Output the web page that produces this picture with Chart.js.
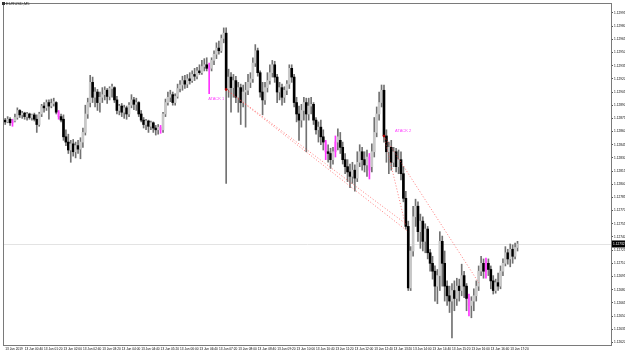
<!DOCTYPE html>
<html>
<head>
<meta charset="utf-8">
<script src="https://cdn.jsdelivr.net/npm/chart.js@4.4.1/dist/chart.umd.min.js"></script>
<style>
  html, body { margin: 0; padding: 0; background: #fff; }
  #wrap { width: 625px; height: 353px; }
</style>
</head>
<body>
<div id="wrap"><canvas id="grafico" width="625" height="353"></canvas></div>
<script>
const symbolTitle = "EURUSD,M5";

const timeLabels = [
  "13 Jun 2019", "13 Jun 00:40", "13 Jun 01:20", "13 Jun 02:00", "13 Jun 02:40", "13 Jun 03:20",
  "13 Jun 04:00", "13 Jun 04:40", "13 Jun 05:20", "13 Jun 06:00", "13 Jun 06:40", "13 Jun 07:20",
  "13 Jun 08:00", "13 Jun 08:40", "13 Jun 09:20", "13 Jun 10:00", "13 Jun 10:40", "13 Jun 11:20",
  "13 Jun 12:00", "13 Jun 12:40", "13 Jun 13:20", "13 Jun 14:00", "13 Jun 14:40", "13 Jun 15:20",
  "13 Jun 16:00", "13 Jun 16:40", "13 Jun 17:20"
];

const priceTicks = [
  1.12620, 1.12635, 1.12650, 1.12665, 1.12680, 1.12695, 1.12710, 1.12725, 1.12740,
  1.12755, 1.12770, 1.12785, 1.12800, 1.12815, 1.12830, 1.12845, 1.12860, 1.12875,
  1.12890, 1.12905, 1.12920, 1.12935, 1.12950, 1.12965, 1.12980, 1.12995
];

// velas M5 (open / high / low / close)
const opens = [
  1.12873,1.12871,1.12874,1.12870,1.12872,1.12876,1.12884,1.12879,1.12881,1.12877,
  1.12880,1.12876,1.12879,1.12874,1.12868,1.12880,1.12889,1.12887,1.12893,1.12889,
  1.12892,1.12893,1.12882,1.12877,1.12874,1.12854,1.12848,1.12839,1.12846,1.12837,
  1.12844,1.12840,1.12848,1.12859,1.12880,1.12893,1.12916,1.12899,1.12905,1.12893,
  1.12899,1.12902,1.12907,1.12900,1.12909,1.12910,1.12896,1.12884,1.12889,1.12882,
  1.12887,1.12880,1.12890,1.12896,1.12891,1.12893,1.12880,1.12873,1.12868,1.12872,
  1.12866,1.12870,1.12864,1.12862,1.12865,1.12862,1.12880,1.12893,1.12899,1.12902,
  1.12893,1.12900,1.12909,1.12913,1.12918,1.12914,1.12920,1.12918,1.12925,1.12923,
  1.12929,1.12927,1.12934,1.12936,1.12933,1.12932,1.12941,1.12948,1.12955,1.12952,
  1.12966,1.12972,1.12908,1.12922,1.12910,1.12918,1.12899,1.12910,1.12893,1.12905,
  1.12907,1.12916,1.12920,1.12938,1.12952,1.12927,1.12905,1.12896,1.12910,1.12918,
  1.12927,1.12936,1.12922,1.12905,1.12910,1.12899,1.12907,1.12914,1.12932,1.12922,
  1.12893,1.12880,1.12873,1.12884,1.12893,1.12880,1.12889,1.12891,1.12873,1.12862,
  1.12865,1.12854,1.12848,1.12837,1.12835,1.12828,1.12837,1.12848,1.12850,1.12842,
  1.12828,1.12820,1.12814,1.12809,1.12816,1.12807,1.12825,1.12837,1.12828,1.12822,
  1.12831,1.12820,1.12837,1.12859,1.12880,1.12893,1.12907,1.12855,1.12837,1.12842,
  1.12825,1.12837,1.12820,1.12828,1.12812,1.12784,1.12752,1.12682,1.12724,1.12763,
  1.12775,1.12746,1.12758,1.12735,1.12749,1.12722,1.12710,1.12701,1.12684,1.12696,
  1.12735,1.12710,1.12684,1.12673,1.12667,1.12679,1.12670,1.12684,1.12679,1.12696,
  1.12684,1.12670,1.12662,1.12667,1.12673,1.12684,1.12701,1.12710,1.12701,1.12710,
  1.12703,1.12690,1.12679,1.12688,1.12684,1.12701,1.12710,1.12722,1.12715,1.12726,
  1.12718,1.12728
];
const highs = [
  1.12875,1.12877,1.12876,1.12874,1.12880,1.12887,1.12885,1.12883,1.12882,1.12882,
  1.12881,1.12880,1.12881,1.12879,1.12882,1.12891,1.12893,1.12896,1.12896,1.12897,
  1.12898,1.12894,1.12884,1.12880,1.12879,1.12862,1.12857,1.12850,1.12851,1.12848,
  1.12850,1.12853,1.12864,1.12890,1.12898,1.12924,1.12922,1.12910,1.12908,1.12905,
  1.12910,1.12911,1.12909,1.12911,1.12914,1.12911,1.12900,1.12891,1.12892,1.12890,
  1.12889,1.12893,1.12902,1.12899,1.12898,1.12894,1.12884,1.12876,1.12874,1.12873,
  1.12872,1.12871,1.12867,1.12868,1.12867,1.12882,1.12897,1.12905,1.12907,1.12905,
  1.12903,1.12914,1.12918,1.12923,1.12924,1.12925,1.12927,1.12929,1.12932,1.12933,
  1.12936,1.12941,1.12943,1.12944,1.12938,1.12944,1.12952,1.12961,1.12963,1.12970,
  1.12978,1.12978,1.12931,1.12927,1.12925,1.12923,1.12916,1.12914,1.12913,1.12916,
  1.12925,1.12927,1.12944,1.12959,1.12955,1.12929,1.12916,1.12916,1.12927,1.12936,
  1.12941,1.12940,1.12925,1.12916,1.12914,1.12911,1.12918,1.12936,1.12936,1.12925,
  1.12899,1.12889,1.12891,1.12899,1.12898,1.12898,1.12899,1.12893,1.12876,1.12871,
  1.12873,1.12862,1.12850,1.12845,1.12841,1.12842,1.12855,1.12863,1.12859,1.12848,
  1.12835,1.12828,1.12823,1.12825,1.12822,1.12837,1.12845,1.12842,1.12837,1.12839,
  1.12835,1.12846,1.12876,1.12888,1.12905,1.12913,1.12913,1.12862,1.12848,1.12850,
  1.12842,1.12841,1.12839,1.12837,1.12820,1.12792,1.12758,1.12729,1.12775,1.12783,
  1.12780,1.12766,1.12763,1.12755,1.12752,1.12726,1.12718,1.12707,1.12703,1.12746,
  1.12741,1.12724,1.12690,1.12684,1.12687,1.12690,1.12693,1.12692,1.12709,1.12701,
  1.12687,1.12675,1.12672,1.12681,1.12690,1.12707,1.12718,1.12715,1.12716,1.12715,
  1.12707,1.12696,1.12692,1.12699,1.12707,1.12715,1.12729,1.12726,1.12732,1.12731,
  1.12733,1.12735
];
const lows = [
  1.12868,1.12870,1.12867,1.12866,1.12871,1.12874,1.12876,1.12875,1.12874,1.12873,
  1.12874,1.12873,1.12872,1.12859,1.12866,1.12877,1.12882,1.12884,1.12874,1.12887,
  1.12889,1.12880,1.12874,1.12871,1.12850,1.12844,1.12835,1.12825,1.12832,1.12830,
  1.12835,1.12829,1.12842,1.12856,1.12875,1.12888,1.12893,1.12888,1.12884,1.12882,
  1.12893,1.12896,1.12892,1.12896,1.12899,1.12893,1.12880,1.12879,1.12877,1.12875,
  1.12874,1.12877,1.12887,1.12885,1.12884,1.12877,1.12871,1.12864,1.12862,1.12859,
  1.12862,1.12859,1.12856,1.12857,1.12858,1.12859,1.12877,1.12890,1.12894,1.12890,
  1.12890,1.12898,1.12905,1.12907,1.12909,1.12910,1.12914,1.12916,1.12918,1.12920,
  1.12925,1.12925,1.12929,1.12929,1.12903,1.12929,1.12936,1.12943,1.12948,1.12950,
  1.12961,1.12801,1.12899,1.12882,1.12899,1.12893,1.12882,1.12868,1.12888,1.12865,
  1.12902,1.12910,1.12916,1.12934,1.12923,1.12899,1.12879,1.12891,1.12905,1.12914,
  1.12922,1.12916,1.12893,1.12896,1.12890,1.12893,1.12902,1.12909,1.12916,1.12888,
  1.12871,1.12850,1.12865,1.12873,1.12837,1.12873,1.12880,1.12868,1.12857,1.12848,
  1.12845,1.12839,1.12828,1.12825,1.12818,1.12823,1.12831,1.12839,1.12835,1.12823,
  1.12812,1.12803,1.12796,1.12801,1.12792,1.12803,1.12820,1.12816,1.12814,1.12809,
  1.12806,1.12814,1.12831,1.12854,1.12873,1.12888,1.12848,1.12825,1.12812,1.12816,
  1.12820,1.12814,1.12812,1.12805,1.12780,1.12749,1.12679,1.12679,1.12718,1.12752,
  1.12735,1.12727,1.12724,1.12722,1.12715,1.12701,1.12692,1.12667,1.12664,1.12679,
  1.12684,1.12667,1.12662,1.12654,1.12625,1.12656,1.12662,1.12667,1.12673,1.12671,
  1.12656,1.12650,1.12648,1.12656,1.12667,1.12679,1.12696,1.12693,1.12693,1.12696,
  1.12681,1.12675,1.12676,1.12679,1.12681,1.12696,1.12707,1.12709,1.12706,1.12710,
  1.12715,1.12724
];
const closes = [
  1.12871,1.12874,1.12870,1.12872,1.12876,1.12884,1.12879,1.12881,1.12877,1.12880,
  1.12876,1.12879,1.12874,1.12868,1.12880,1.12889,1.12887,1.12893,1.12889,1.12892,
  1.12894,1.12882,1.12877,1.12873,1.12854,1.12848,1.12839,1.12846,1.12837,1.12844,
  1.12840,1.12848,1.12859,1.12880,1.12893,1.12916,1.12899,1.12905,1.12893,1.12899,
  1.12902,1.12907,1.12900,1.12909,1.12911,1.12896,1.12884,1.12889,1.12882,1.12887,
  1.12880,1.12890,1.12896,1.12891,1.12893,1.12880,1.12873,1.12868,1.12872,1.12866,
  1.12870,1.12864,1.12862,1.12865,1.12862,1.12880,1.12893,1.12899,1.12902,1.12893,
  1.12900,1.12909,1.12913,1.12918,1.12914,1.12920,1.12918,1.12925,1.12923,1.12929,
  1.12927,1.12934,1.12936,1.12932,1.12931,1.12941,1.12948,1.12955,1.12952,1.12966,
  1.12972,1.12908,1.12922,1.12910,1.12918,1.12899,1.12910,1.12893,1.12905,1.12907,
  1.12916,1.12920,1.12938,1.12952,1.12927,1.12905,1.12896,1.12910,1.12918,1.12927,
  1.12936,1.12922,1.12905,1.12910,1.12899,1.12907,1.12914,1.12932,1.12922,1.12893,
  1.12880,1.12873,1.12884,1.12893,1.12880,1.12889,1.12891,1.12873,1.12862,1.12865,
  1.12854,1.12848,1.12837,1.12835,1.12828,1.12837,1.12848,1.12854,1.12842,1.12828,
  1.12820,1.12814,1.12809,1.12816,1.12807,1.12825,1.12837,1.12828,1.12822,1.12831,
  1.12816,1.12837,1.12859,1.12880,1.12893,1.12907,1.12855,1.12837,1.12842,1.12825,
  1.12837,1.12820,1.12828,1.12812,1.12784,1.12752,1.12682,1.12724,1.12763,1.12775,
  1.12746,1.12758,1.12735,1.12749,1.12722,1.12710,1.12701,1.12684,1.12696,1.12735,
  1.12710,1.12684,1.12673,1.12667,1.12679,1.12670,1.12684,1.12679,1.12696,1.12684,
  1.12670,1.12662,1.12667,1.12673,1.12684,1.12701,1.12710,1.12701,1.12712,1.12703,
  1.12690,1.12679,1.12688,1.12684,1.12701,1.12710,1.12722,1.12715,1.12726,1.12718,
  1.12728,1.12732
];

// velas marcadas en magenta
const magentaBars = [3, 22, 64, 84, 132, 136, 150, 191, 198];

// lineas de tendencia: [vela, precio] inicio y fin
const trendA = [[91, 1.12908], [165, 1.12755]];
const trendB = [[91, 1.12908], [166, 1.12746]];
const trendC = [[156, 1.12855], [165, 1.12752]];
const trendD = [[156, 1.12855], [195, 1.12688]];

const attackTexts = ["ATACK 1", "ATACK 2"];
const attackBars = [84, 161];
const attackPrices = [1.12897, 1.12861];

const totalSlots = 250; // espacio vacio a la derecha como en MT4

Chart.defaults.font.family = "'Liberation Sans', Arial, sans-serif";

const slots = Array.from({ length: totalSlots }, (_, i) => i);
const bodyData = opens.map((o, i) => [o, closes[i]]);
const wickData = lows.map((l, i) => [l, highs[i]]);
const bodyColors = opens.map((o, i) =>
  magentaBars.includes(i) ? "rgba(255,80,255,0.55)" : (closes[i] >= o ? "#c8c8c8" : "#000000"));
const wickColors = opens.map((o, i) => magentaBars.includes(i) ? "#ff33ff" : "#727272");

const trendSet = (pts) => ({
  type: "line",
  data: pts.map(p => ({ x: p[0], y: p[1] })),
  borderColor: "rgba(255,70,70,0.7)",
  borderWidth: 1,
  borderDash: [1, 2],
  pointRadius: ctx => ctx.dataIndex === 0 ? 1.2 : 0,
  pointBackgroundColor: "#b00000",
  pointBorderWidth: 0,
  tension: 0,
  order: 0
});

const decor = {
  id: "decor",
  beforeDraw(chart) {
    const ctx = chart.ctx;
    ctx.save();
    ctx.fillStyle = "#fff";
    ctx.fillRect(0, 0, chart.width, chart.height);
    ctx.restore();
  },
  beforeDatasetsDraw(chart) {
    const { ctx, chartArea, scales } = chart;
    const y = Math.round(scales.y.getPixelForValue(closes[closes.length - 1])) + 0.5;
    ctx.save();
    ctx.strokeStyle = "#e3e3e3";
    ctx.lineWidth = 1;
    ctx.beginPath();
    ctx.moveTo(chartArea.left, y);
    ctx.lineTo(chartArea.right, y);
    ctx.stroke();
    ctx.restore();
  },
  afterDraw(chart) {
    const { ctx, chartArea, scales } = chart;
    ctx.save();
    // marco
    ctx.strokeStyle = "#7a7a7a";
    ctx.lineWidth = 1;
    ctx.strokeRect(chartArea.left - 0.5, chartArea.top - 0.5,
      chartArea.right - chartArea.left + 1, chartArea.bottom - chartArea.top + 1);

    // titulo
    ctx.fillStyle = "#333";
    ctx.fillRect(2, 2, 3, 3);
    ctx.fillStyle = "#222";
    ctx.font = "4px 'Liberation Sans', Arial, sans-serif";
    ctx.textBaseline = "middle";
    ctx.textAlign = "left";
    ctx.fillText(symbolTitle, 6, 4);

    // textos ATACK
    ctx.fillStyle = "#ff40ff";
    attackTexts.forEach((t, i) => {
      ctx.fillText(t, scales.x.getPixelForValue(attackBars[i]) - 1,
        scales.y.getPixelForValue(attackPrices[i]));
    });

    // etiqueta del precio actual
    const last = closes[closes.length - 1];
    const y = scales.y.getPixelForValue(last);
    ctx.fillStyle = "#000";
    ctx.fillRect(chartArea.right + 1, y - 3.5, 14, 7);
    ctx.fillStyle = "#fff";
    ctx.font = "3.2px 'Liberation Sans', Arial, sans-serif";
    ctx.fillText(last.toFixed(5), chartArea.right + 2, y);
    ctx.restore();
  }
};

new Chart(document.getElementById("grafico"), {
  type: "bar",
  data: {
    labels: slots,
    datasets: [
      trendSet(trendA), trendSet(trendB), trendSet(trendC), trendSet(trendD),
      {
        label: "cuerpo",
        data: bodyData,
        backgroundColor: bodyColors,
        barThickness: 2,
        grouped: false,
        order: 1
      },
      {
        label: "mecha",
        data: wickData,
        backgroundColor: wickColors,
        barThickness: 1,
        grouped: false,
        order: 2
      }
    ]
  },
  options: {
    responsive: false,
    animation: false,
    devicePixelRatio: 1,
    layout: { padding: { left: 1, top: 1, right: 0, bottom: 0 } },
    plugins: { legend: { display: false }, tooltip: { enabled: false } },
    scales: {
      x: {
        type: "category",
        offset: true,
        grid: { display: false, drawTicks: false },
        border: { display: false },
        ticks: {
          autoSkip: false,
          maxRotation: 0,
          minRotation: 0,
          align: "start",
          padding: 2,
          color: "#000",
          font: { size: 3.2 },
          callback: (v, i) => (i % 8 === 0 && timeLabels[i / 8] !== undefined) ? timeLabels[i / 8] : null
        },
        afterFit: s => { s.height = 8; }
      },
      y: {
        position: "right",
        min: 1.12617,
        max: 1.130052,
        afterBuildTicks: s => { s.ticks = priceTicks.map(v => ({ value: v })); },
        grid: { drawOnChartArea: false, drawTicks: true, tickLength: 2, color: "#555" },
        border: { display: false },
        ticks: {
          padding: 1,
          color: "#000",
          font: { size: 3.2 },
          callback: v => Number(v).toFixed(5)
        },
        afterFit: s => { s.width = 14; }
      }
    }
  },
  plugins: [decor]
});
</script>
</body>
</html>
